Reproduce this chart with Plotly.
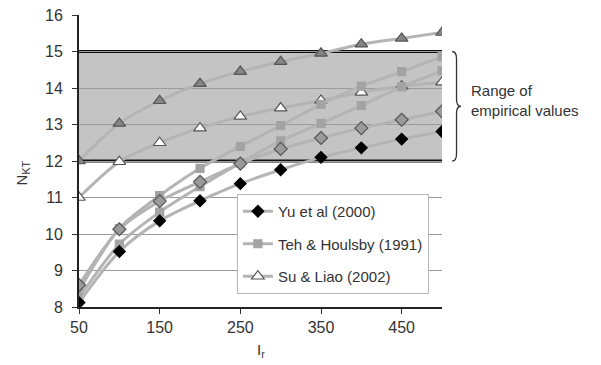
import plotly.graph_objects as go

# Rigidity index I_r and cone factor N_kT for each method
ir = [50, 100, 150, 200, 250, 300, 350, 400, 450, 500]
yu_a = [8.12, 9.52, 10.36, 10.91, 11.38, 11.76, 12.10, 12.36, 12.60, 12.81]
yu_b = [8.60, 10.13, 10.90, 11.43, 11.93, 12.33, 12.63, 12.90, 13.13, 13.36]
teh_a = [8.45, 10.15, 11.05, 11.80, 12.40, 12.97, 13.55, 14.05, 14.45, 14.86]
teh_b = [8.25, 9.72, 10.60, 11.30, 11.95, 12.55, 13.03, 13.52, 14.03, 14.47]
su_a = [12.00, 13.03, 13.65, 14.12, 14.45, 14.72, 14.95, 15.20, 15.36, 15.52]
su_b = [11.00, 11.98, 12.50, 12.90, 13.22, 13.45, 13.66, 13.88, 14.05, 14.16]

x_ticks = [50, 150, 250, 350, 450]
y_ticks = list(range(8, 17))
band_low, band_high = 12, 15

LINE = dict(color="#b4b4b4", width=3, shape="spline", smoothing=0.8)
FONT = "Liberation Sans, Arial, sans-serif"

fig = go.Figure()

def add(y, name, symbol, fill, outline, size, show, group, rank):
    fig.add_trace(go.Scatter(
        x=ir, y=y, name=name, mode="lines+markers", line=LINE,
        marker=dict(symbol=symbol, size=size, color=fill,
                    line=dict(color=outline, width=1.2)),
        showlegend=show, legendgroup=group, legendrank=rank,
    ))

add(su_a, "Su & Liao (2002)", "triangle-up", "#858585", "#555555", 11, False, "su", 3)
add(su_b, "Su & Liao (2002)", "triangle-up", "#ffffff", "#555555", 11, True, "su", 3)
add(teh_a, "Teh & Houlsby (1991)", "square", "#a3a3a3", "#a3a3a3", 8, True, "teh", 2)
add(teh_b, "Teh & Houlsby (1991)", "square", "#a3a3a3", "#a3a3a3", 8, False, "teh", 2)
add(yu_b, "Yu et al (2000)", "diamond", "#9a9a9a", "#555555", 10, False, "yu", 1)
add(yu_a, "Yu et al (2000)", "diamond", "#000000", "#000000", 9, True, "yu", 1)

# shaded range of empirical values
fig.add_shape(type="rect", xref="paper", x0=0, x1=1, y0=band_low, y1=band_high,
              fillcolor="#c4c4c4", line_width=0, layer="below")
for yv in (band_low, band_high):
    fig.add_shape(type="line", xref="paper", x0=0, x1=1, y0=yv, y1=yv,
                  line=dict(color="#111111", width=3), layer="between")

# curly brace beside the band
x0, x1, x2 = 1.028, 1.040, 1.052
mid = (band_low + band_high) / 2
brace = (f"M {x0},{band_high} Q {x1},{band_high} {x1},{band_high-0.2} "
         f"L {x1},{mid+0.2} Q {x1},{mid} {x2},{mid} "
         f"Q {x1},{mid} {x1},{mid-0.2} "
         f"L {x1},{band_low+0.2} Q {x1},{band_low} {x0},{band_low}")
fig.add_shape(type="path", xref="paper", yref="y", path=brace,
              line=dict(color="#333333", width=1.3))
fig.add_annotation(xref="paper", x=1.074, y=mid + 0.15, xanchor="left",
                   yanchor="middle", align="left", showarrow=False,
                   text="Range of<br>empirical values",
                   font=dict(family=FONT, size=15, color="#333333"))

# axis titles
fig.add_annotation(xref="paper", yref="paper", x=-0.155, y=0.46,
                   xanchor="center", yanchor="middle", showarrow=False,
                   textangle=-90, text="N<sub>KT</sub>",
                   font=dict(family=FONT, size=15, color="#333333"))
fig.add_annotation(xref="paper", yref="paper", x=0.5, y=-0.148,
                   xanchor="center", yanchor="middle", showarrow=False,
                   text="I<sub>r</sub>",
                   font=dict(family=FONT, size=15, color="#333333"))

fig.update_layout(
    width=601, height=365,
    margin=dict(l=79, r=159, t=15, b=58),
    paper_bgcolor="white", plot_bgcolor="white",
    font=dict(family=FONT, size=16, color="#333333"),
    legend=dict(x=0.435, y=0.387, xanchor="left", yanchor="top",
                bgcolor="white", bordercolor="#b8b8b8", borderwidth=1,
                traceorder="grouped", tracegroupgap=10,
                itemwidth=30, font=dict(size=15, color="#333333")),
    xaxis=dict(range=[50, 500], tickvals=x_ticks, ticks="outside",
               ticklen=5, tickcolor="#333333", showgrid=False,
               showline=True, linecolor="#222222", linewidth=2,
               zeroline=False, automargin=False),
    yaxis=dict(range=[8, 16], tickvals=y_ticks, ticks="outside",
               ticklen=5, tickcolor="#333333", showgrid=True,
               gridcolor="#9a9a9a", gridwidth=1, ticklabelstandoff=6,
               showline=True, linecolor="#222222", linewidth=2,
               zeroline=False, automargin=False),
)

fig.write_html("out.html")
